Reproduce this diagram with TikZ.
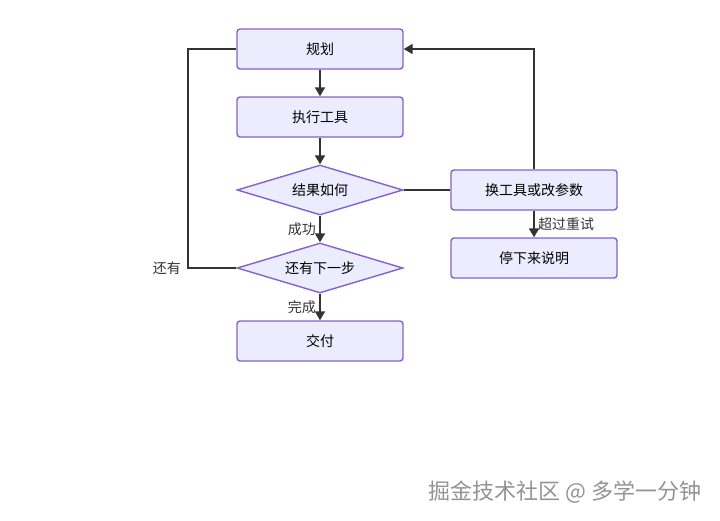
\documentclass[tikz,border=0pt]{standalone}
\usepackage{fontspec}
\setmainfont{Noto Sans CJK SC}
\usetikzlibrary{shapes.geometric}
\usetikzlibrary{arrows.meta}
\usetikzlibrary{positioning}
\definecolor{boxfill}{HTML}{ECECFF}
\definecolor{boxline}{HTML}{8462C8}
\definecolor{wire}{HTML}{333333}
\tikzset{
  task/.style={draw=boxline,fill=boxfill,rounded corners=3pt,line width=1.4pt,minimum width=166pt,minimum height=40pt,font=\fontsize{14}{16}\selectfont},
  ask/.style={diamond,aspect=3.3,draw=boxline,fill=boxfill,line width=1.4pt,minimum width=166pt,minimum height=50pt,inner sep=0pt,font=\fontsize{14}{16}\selectfont},
  flow/.style={draw=wire,line width=1.8pt,-{Triangle[length=9pt,width=10pt]}},
  link/.style={draw=wire,line width=1.8pt},
  tag/.style={font=\fontsize{14}{16}\selectfont,text=wire}
}
\begin{document}
\begin{tikzpicture}[x=1pt,y=-1pt]
\useasboundingbox (0,0) rectangle (720,520);
\node (plan) [task] at (320,49) {规划};
\node (run) [task] at (320,117) {执行工具};
\node (check) [ask] at (320,190) {结果如何};
\node (more) [ask] at (320,268) {还有下一步};
\node (done) [task] at (320,341) {交付};
\node (swap) [task] at (534,190) {换工具或改参数};
\node (stop) [task] at (534,258) {停下来说明};
\coordinate (lft) at (188,268);
\coordinate (rgt) at (534,49);
% main path
\draw[flow] (plan) -- (run);
\draw[flow] (run) -- (check);
\draw[flow] (check) -- node[tag,left] {成功} (more);
\draw[flow] (more) -- node[tag,left] {完成} (done);
% loops
\draw[link] (more.west) -- (lft) node[tag,left=3pt] {还有} |- (plan.west);
\draw[link] (check.east) -- (swap.west);
\draw[flow] (swap.north) -- (rgt) -- (plan.east);
\draw[flow] (swap) -- node[tag,right] {超过重试} (stop);
\node (mark) [font=\fontsize{22}{25}\selectfont,text=gray!85] at (565,492) {掘金技术社区 @ 多学一分钟};
\end{tikzpicture}
\end{document}
